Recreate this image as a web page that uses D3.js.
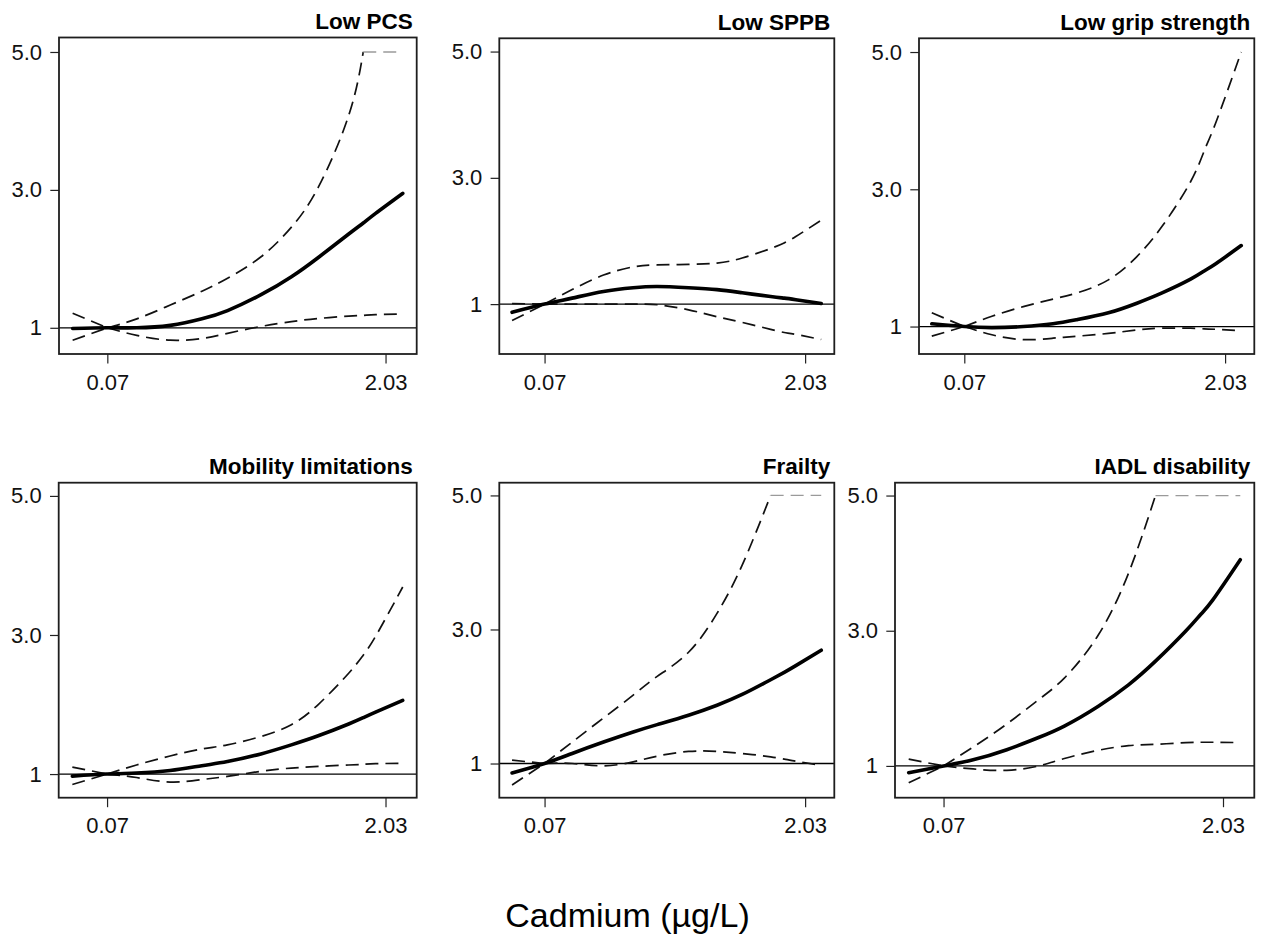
<!DOCTYPE html>
<html>
<head>
<meta charset="utf-8">
<script src="https://cdn.jsdelivr.net/npm/d3@7"></script>
<style>
  html, body { margin: 0; background: #fff; }
  svg { display: block; }
</style>
</head>
<body>
<svg id="chart" width="1269" height="936"></svg>
<script>
// Blood cadmium levels (µg/L) at which the spline curves are evaluated
const cadmium = [0.046, 0.07, 0.1, 0.15, 0.22, 0.3, 0.45, 0.65, 0.9, 1.3, 1.55, 1.8, 2.5];
const referenceCadmium = 0.07;

const outcomes = ["Low PCS", "Low SPPB", "Low grip strength",
                  "Mobility limitations", "Frailty", "IADL disability"];

// Odds ratios with 95% confidence limits (upper limits truncated at 5.0)
const pcsOR      = [0.99, 1.0, 1.0, 1.035, 1.13, 1.25, 1.48, 1.74, 2.02, 2.36, 2.52, 2.66, 2.95];
const pcsUpper   = [1.21, 1.0, 1.13, 1.33, 1.53, 1.72, 2.03, 2.46, 3.04, 4.08, 5.0, 5.0, 5.0];
const pcsLower   = [0.82, 1.0, 0.89, 0.82, 0.845, 0.92, 1.02, 1.09, 1.135, 1.17, 1.18, 1.19, 1.2];

const sppbOR     = [0.87, 1.0, 1.095, 1.2, 1.26, 1.28, 1.26, 1.23, 1.18, 1.12, 1.095, 1.07, 1.01];
const sppbUpper  = [1.01, 1.0, 1.23, 1.46, 1.59, 1.62, 1.63, 1.65, 1.73, 1.88, 1.97, 2.07, 2.33];
const sppbLower  = [0.74, 1.0, 1.0, 1.0, 1.0, 0.99, 0.91, 0.8, 0.71, 0.6, 0.55, 0.52, 0.44];

const gripOR     = [1.04, 1.0, 0.985, 1.0, 1.04, 1.1, 1.2, 1.34, 1.49, 1.69, 1.81, 1.915, 2.18];
const gripUpper  = [1.2, 1.0, 1.15, 1.29, 1.4, 1.49, 1.68, 2.02, 2.46, 3.11, 3.56, 3.97, 5.0];
const gripLower  = [0.86, 1.0, 0.88, 0.81, 0.83, 0.86, 0.9, 0.95, 0.976, 0.976, 0.966, 0.96, 0.94];

const mobOR      = [0.97, 1.0, 1.015, 1.05, 1.12, 1.18, 1.29, 1.42, 1.55, 1.72, 1.81, 1.89, 2.06];
const mobUpper   = [1.1, 1.0, 1.13, 1.26, 1.36, 1.42, 1.54, 1.71, 2.0, 2.45, 2.71, 2.98, 3.69];
const mobLower   = [0.85, 1.0, 0.95, 0.885, 0.92, 0.967, 1.04, 1.086, 1.11, 1.13, 1.14, 1.15, 1.153];

const frailOR    = [0.86, 1.0, 1.15, 1.32, 1.47, 1.58, 1.72, 1.87, 2.03, 2.25, 2.36, 2.46, 2.69];
const frailUpper = [1.05, 1.0, 1.32, 1.68, 2.02, 2.3, 2.66, 3.24, 3.96, 5.0, 5.0, 5.0, 5.0];
const frailLower = [0.68, 1.0, 1.0, 0.965, 1.025, 1.11, 1.18, 1.18, 1.15, 1.1, 1.065, 1.035, 0.97];

const iadlOR     = [0.9, 1.0, 1.09, 1.24, 1.42, 1.59, 1.88, 2.2, 2.55, 3.0, 3.24, 3.46, 4.05];
const iadlUpper  = [1.1, 1.0, 1.28, 1.62, 1.98, 2.3, 2.93, 3.85, 5.0, 5.0, 5.0, 5.0, 5.0];
const iadlLower  = [0.75, 1.0, 0.955, 0.935, 1.0, 1.11, 1.23, 1.3, 1.32, 1.345, 1.35, 1.35, 1.345];

// Axis ticks and limits
const xTicks = [0.07, 2.03];
const xTickLabels = ["0.07", "2.03"];
const yTicks = [1, 3, 5];
const yTickLabels = ["1", "3.0", "5.0"];
const xDomain = [0.039, 2.96];
const yMin = [0.62, 0.21, 0.60, 0.66, 0.49, 0.53];
const yMax = [5.21, 5.21, 5.20, 5.19, 5.19, 5.19];
const yCap = 5.0;

const series = [
  { or: pcsOR,   lo: pcsLower,   hi: pcsUpper },
  { or: sppbOR,  lo: sppbLower,  hi: sppbUpper },
  { or: gripOR,  lo: gripLower,  hi: gripUpper },
  { or: mobOR,   lo: mobLower,   hi: mobUpper },
  { or: frailOR, lo: frailLower, hi: frailUpper },
  { or: iadlOR,  lo: iadlLower,  hi: iadlUpper }
];

// Plot frame of each panel (left, right, top, bottom)
const frames = [
  { l: 59,    r: 416.7,  t: 37.5,  b: 354 },
  { l: 499.3, r: 834.3,  t: 38.3,  b: 354 },
  { l: 919,   r: 1254.3, t: 38.3,  b: 354 },
  { l: 58.7,  r: 416.7,  t: 482.7, b: 797.7 },
  { l: 499.3, r: 834.3,  t: 482.7, b: 797.7 },
  { l: 895,   r: 1254.3, t: 482.7, b: 797.7 }
];

const FONT = "'Liberation Sans', Arial, Helvetica, sans-serif";
const svg = d3.select("#chart");
const refIndex = cadmium.indexOf(referenceCadmium);

outcomes.forEach((name, i) => {
  const f = frames[i];
  const s = series[i];
  const x = d3.scaleLog().domain(xDomain).range([f.l, f.r]);
  const y = d3.scaleLinear().domain([yMin[i], yMax[i]]).range([f.b, f.t]);
  const g = svg.append("g");

  const clipId = "clip" + i;
  svg.append("clipPath").attr("id", clipId)
    .append("rect").attr("x", f.l).attr("y", f.t)
    .attr("width", f.r - f.l).attr("height", f.b - f.t);

  const plot = g.append("g").attr("clip-path", `url(#${clipId})`);

  // reference line at OR = 1
  plot.append("line")
    .attr("x1", f.l).attr("x2", f.r)
    .attr("y1", y(1)).attr("y2", y(1))
    .attr("stroke", "#000").attr("stroke-width", 1.3);

  const smooth = d3.line()
    .x(d => x(d[0])).y(d => y(d[1]))
    .curve(d3.curveNatural);
  const straight = d3.line()
    .x(d => x(d[0])).y(d => y(d[1]));

  const dashed = (sel, color, width) => sel
    .attr("fill", "none")
    .attr("stroke", color)
    .attr("stroke-width", width)
    .attr("stroke-dasharray", "13,7");

  // confidence limits: drawn separately on each side of the reference level;
  // a truncated limit continues as a flat segment at the cap
  [s.lo, s.hi].forEach(vals => {
    const pts = cadmium.map((c, k) => [c, vals[k]]);
    plot.append("path").attr("d", smooth(pts.slice(0, refIndex + 1)))
      .call(dashed, "#111", 1.7);
    const right = pts.slice(refIndex);
    const capAt = right.findIndex(p => p[1] >= yCap);
    if (capAt < 0 || capAt === right.length - 1) {
      plot.append("path").attr("d", smooth(right)).call(dashed, "#111", 1.7);
    } else {
      plot.append("path").attr("d", smooth(right.slice(0, capAt + 1)))
        .call(dashed, "#111", 1.7);
      plot.append("path").attr("d", straight(right.slice(capAt)))
        .call(dashed, "#9a9a9a", 1.3);
    }
  });

  // odds ratio curve
  plot.append("path")
    .attr("d", smooth(cadmium.map((c, k) => [c, s.or[k]])))
    .attr("fill", "none")
    .attr("stroke", "#000")
    .attr("stroke-width", 3.6)
    .attr("stroke-linecap", "round");

  // axes
  const xAxis = g.append("g")
    .attr("transform", `translate(0,${f.b})`)
    .call(d3.axisBottom(x).tickValues(xTicks)
      .tickFormat((d, j) => xTickLabels[j]).tickSize(9.5).tickPadding(10.5));
  const yAxis = g.append("g")
    .attr("transform", `translate(${f.l},0)`)
    .call(d3.axisLeft(y).tickValues(yTicks)
      .tickFormat((d, j) => yTickLabels[j]).tickSize(8.7).tickPadding(8.3));
  [xAxis, yAxis].forEach(a => {
    a.select(".domain").remove();
    a.selectAll(".tick line").attr("stroke", "#222").attr("stroke-width", 1.2);
    a.selectAll(".tick text")
      .attr("fill", "#111")
      .style("font-family", FONT)
      .style("font-size", "22px");
  });

  // frame
  g.append("rect")
    .attr("x", f.l).attr("y", f.t)
    .attr("width", f.r - f.l).attr("height", f.b - f.t)
    .attr("fill", "none").attr("stroke", "#1e1e1e").attr("stroke-width", 1.8);

  // panel title
  g.append("text")
    .attr("x", f.r - 4).attr("y", f.t - 8.5)
    .attr("text-anchor", "end")
    .style("font-family", FONT)
    .style("font-size", "22.5px")
    .style("font-weight", "bold")
    .attr("fill", "#000")
    .text(name);
});

svg.append("text")
  .attr("x", 627.5).attr("y", 927)
  .attr("text-anchor", "middle")
  .style("font-family", FONT)
  .style("font-size", "34px")
  .attr("fill", "#000")
  .text("Cadmium (µg/L)");
</script>
</body>
</html>
